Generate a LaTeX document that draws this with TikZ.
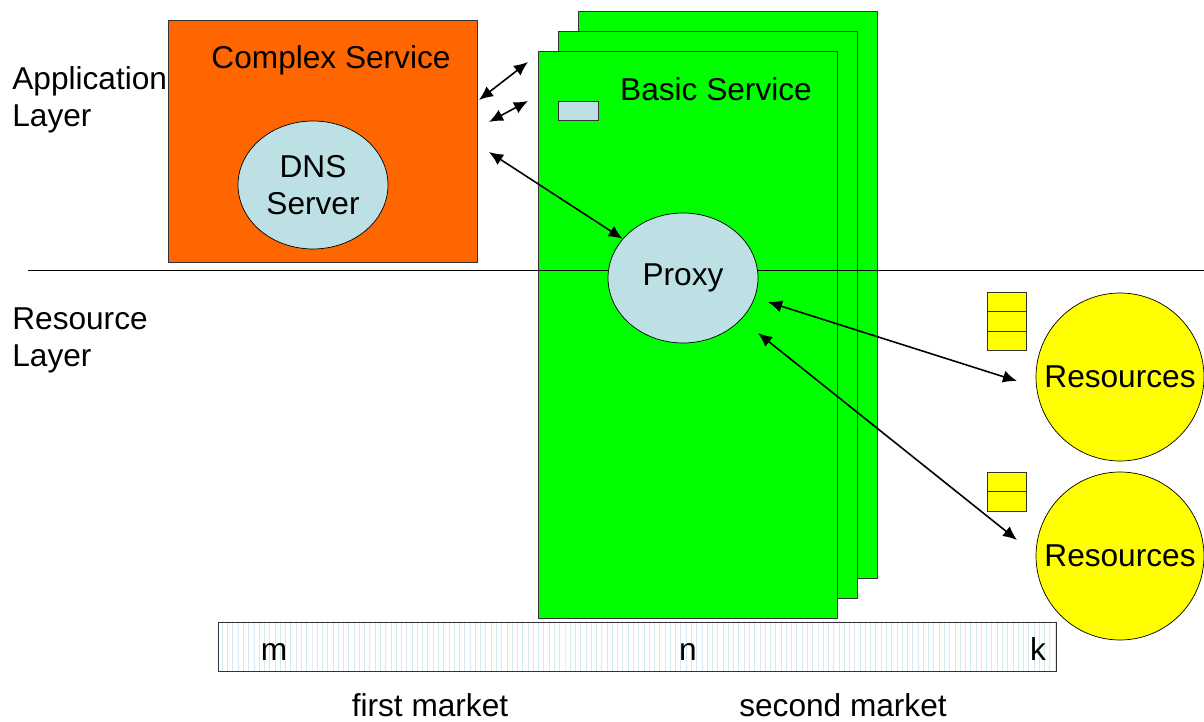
\documentclass[tikz,border=0pt]{standalone}
\usepackage{fontspec}
\setmainfont{Liberation Sans}
\usetikzlibrary{shapes.geometric, patterns, arrows.meta}

\definecolor{complexorange}{HTML}{FF6600}
\definecolor{basicgreen}{HTML}{00FF00}
\definecolor{proxyblue}{HTML}{BCE0E4}
\definecolor{resyellow}{HTML}{FFFF00}
\definecolor{hatchblue}{HTML}{D2EAEF}

\begin{document}
\begin{tikzpicture}[x=0.02cm, y=-0.02cm, >={Latex[length=8pt, width=7pt]},
    font=\fontsize{18}{21}\selectfont]
    \useasboundingbox (0,0) rectangle (1204,722);

    % Layer names
    \node[align=left, anchor=west, inner sep=0pt] (app) at (12,100) {Application\\Layer};
    \node[align=left, anchor=west, inner sep=0pt] (res) at (12,340) {Resource\\Layer};

    % Complex service with its DNS server
    \draw[fill=complexorange, draw=black!80] (168,20) rectangle (477,262);
    \node (complex) at (331,60) {Complex Service};
    \node[ellipse, draw, fill=proxyblue, minimum width=3cm, minimum height=2.56cm, align=center] (dns) at (313,185) {DNS\\Server};

    % Stack of basic services
    \foreach \d in {40,20,0}
        \draw[fill=basicgreen, draw=black!80] (538+\d,51-\d) rectangle (837+\d,618-\d);
    \node (basic) at (716,89) {Basic Service};
    \draw[fill=proxyblue, draw=black!80] (558,101) rectangle (598,120);

    % Border between the layers
    \draw (28,270) -- (1204,270);

    % Proxy of the basic service
    \node[ellipse, draw, fill=proxyblue, minimum width=3cm, minimum height=2.6cm] (proxy) at (683,278) {Proxy};

    % Resources with their queues
    \node[circle, draw, fill=resyellow, minimum size=3.36cm, inner sep=0pt] (res1) at (1120,377) {Resources};
    \node[circle, draw, fill=resyellow, minimum size=3.36cm, inner sep=0pt] (res2) at (1120,556) {Resources};
    \foreach \y in {292,311.5,331}
        \draw[fill=resyellow, draw=black!80] (987,\y) rectangle (1026,\y+19.5);
    \foreach \y in {472,491.5}
        \draw[fill=resyellow, draw=black!80] (987,\y) rectangle (1026,\y+19.5);

    % Market bar
    \draw[pattern=vertical lines, pattern color=hatchblue, draw=black!80] (218,622) rectangle (1056,671);
    \node[anchor=base] (m) at (274,661) {m};
    \node[anchor=base] (n) at (688,661) {n};
    \node[anchor=base] (k) at (1038,661) {k};
    \node[anchor=base] (first) at (430,716) {first market};
    \node[anchor=base] (second) at (843,716) {second market};

    % Connections
    \coordinate (c1) at (479,100);
    \coordinate (b1) at (528,62);
    \coordinate (c2) at (489,122);
    \coordinate (b2) at (528,101);
    \coordinate (c3) at (489,152);
    \coordinate (p1) at (768,302);
    \coordinate (r1) at (1017,381);
    \coordinate (p2) at (758,333);
    \coordinate (r2) at (1017,540);
    \begin{scope}[line width=0.9pt]
    \draw[<->] (c1) -- (b1);
    \draw[<->] (c2) -- (b2);
    \draw[<->] (c3) -- (proxy);
    \draw[<->] (p1) -- (r1);
    \draw[<->] (p2) -- (r2);
    \end{scope}
\end{tikzpicture}
\end{document}
